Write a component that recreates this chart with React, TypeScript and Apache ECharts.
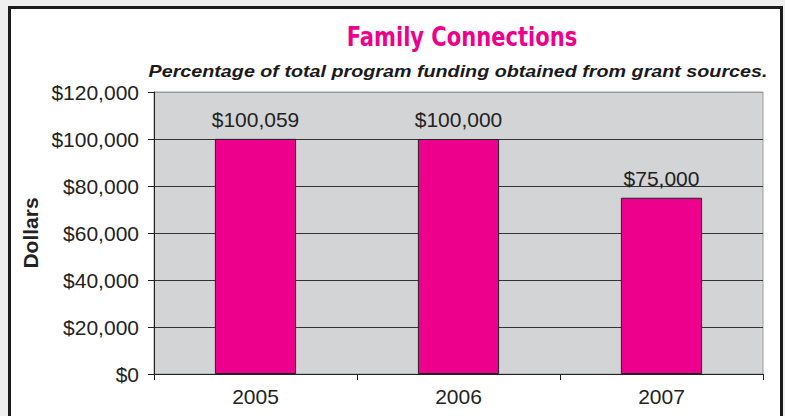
import React, { useEffect, useRef } from "react";
import * as echarts from "echarts";

const categories = ["2005", "2006", "2007"];
const funding = [100059, 100000, 75000];
const yTicks = [0, 20000, 40000, 60000, 80000, 100000, 120000];
const titleText = "Family Connections";
const subtitleText = "Percentage of total program funding obtained from grant sources.";
const yAxisName = "Dollars";

const fmt = (v: number) => "$" + v.toLocaleString("en-US");

export default function App() {
  const ref = useRef<HTMLDivElement>(null);
  useEffect(() => {
    document.body.style.margin = "0";
    const chart = echarts.init(ref.current!, null, { renderer: "svg" });
    const font = "'Liberation Sans', Arial, sans-serif";
    chart.setOption({
      animation: false,
      graphic: [
        {
          type: "text",
          x: 462,
          y: 37,
          scaleX: 0.9,
          style: {
            text: titleText,
            fill: "#ec008c",
            font: "bold 26px 'Liberation Sans Narrow', 'DejaVu Sans Condensed', sans-serif",
            textAlign: "center",
            textVerticalAlign: "middle",
          },
        },
        {
          type: "text",
          x: 458,
          y: 71,
          scaleX: 1.16,
          style: {
            text: subtitleText,
            fill: "#1a1a1a",
            font: "italic bold 17px 'Liberation Sans', Arial, sans-serif",
            textAlign: "center",
            textVerticalAlign: "middle",
          },
        },
      ],
      grid: {
        left: 154,
        top: 92,
        right: 22,
        bottom: 42,
        show: true,
        backgroundColor: "#d3d4d6",
        borderColor: "#9a9a9a",
        borderWidth: 1,
      },
      xAxis: {
        type: "category",
        data: categories,
        axisLine: { lineStyle: { color: "#222", width: 1 } },
        axisTick: { show: true, length: 6, lineStyle: { color: "#222" } },
        axisLabel: { color: "#222", fontSize: 21, fontFamily: font, margin: 12 },
      },
      yAxis: {
        type: "value",
        min: 0,
        max: 120000,
        interval: 20000,
        name: yAxisName,
        nameLocation: "middle",
        nameRotate: 90,
        nameGap: 112,
        nameTextStyle: { color: "#222", fontSize: 21, fontWeight: "bold", fontFamily: font },
        axisLine: { show: true, lineStyle: { color: "#222", width: 1 } },
        axisTick: { show: true, length: 6, lineStyle: { color: "#222" } },
        axisLabel: {
          color: "#222",
          fontSize: 21,
          fontFamily: font,
          margin: 15,
          formatter: (v: number) => (yTicks.includes(v) ? fmt(v) : ""),
        },
        splitLine: {
          show: true,
          lineStyle: {
            color: ["#333", "#333", "#333", "#333", "#333", "#333", "#9a9a9a"],
            width: 1,
          },
        },
      },
      series: [
        {
          type: "bar",
          data: funding,
          barWidth: "40%",
          itemStyle: { color: "#ec008c", borderColor: "#222", borderWidth: 1 },
          label: {
            show: true,
            position: "top",
            distance: 9,
            color: "#222",
            fontSize: 21,
            fontFamily: font,
            formatter: (p: any) => fmt(p.value),
          },
        },
      ],
    });
    return () => chart.dispose();
  }, []);
  return (
    <div style={{ position: "relative", width: 785, height: 416, background: "#efefef", overflow: "hidden" }}>
      <div
        style={{
          position: "absolute",
          left: 8,
          top: 6,
          width: 775,
          height: 430,
          boxSizing: "border-box",
          border: "3px solid #1c1c1c",
          background: "#fff",
        }}
      />
      <div ref={ref} style={{ position: "absolute", left: 0, top: 0, width: 785, height: 416 }} />
    </div>
  );
}
